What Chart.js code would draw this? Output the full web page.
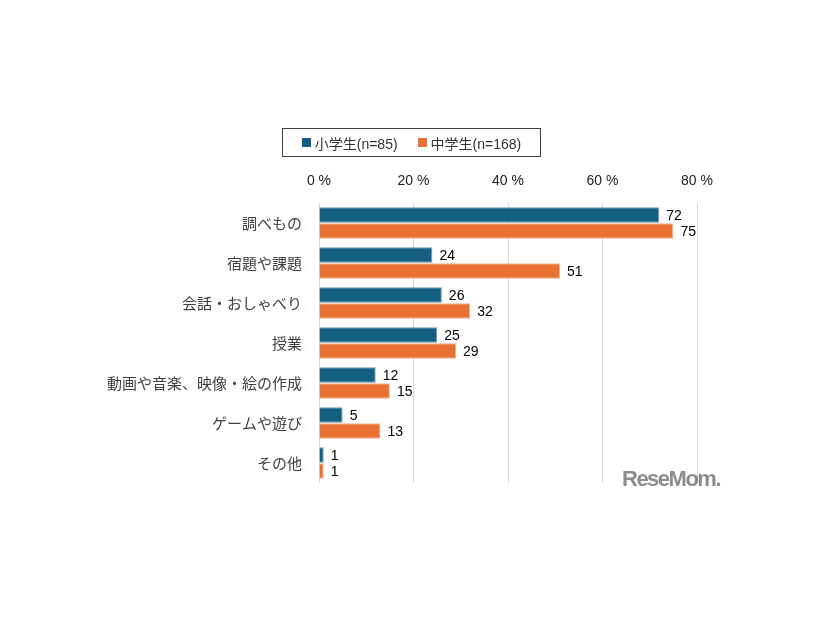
<!DOCTYPE html>
<html lang="ja">
<head>
<meta charset="UTF-8">
<title>利用目的</title>
<script src="https://cdn.jsdelivr.net/npm/chart.js"></script>
<style>
  body { margin: 0; background: #ffffff; }
  #wrap { position: relative; width: 826px; height: 620px; }
  #legend {
    position: absolute; left: 282px; top: 128px; width: 257px; height: 27px;
    border: 1px solid #404040; display: flex; justify-content: center; align-items: center;
    font-family: "Liberation Sans", "Noto Sans CJK JP", sans-serif; font-size: 14px; color: #333;
  }
  #legend span.item { display: flex; align-items: center; margin: 0 10px; }
  #legend span.box { width: 9px; height: 9px; margin-right: 4px; }
  #logo {
    position: absolute; left: 622px; top: 466px; font-family: "Liberation Sans", sans-serif;
    font-weight: bold; font-size: 22px; color: #8c8c8c; letter-spacing: -1.5px;
  }
</style>
</head>
<body>
<div id="wrap">
  <canvas id="chart" width="826" height="620"></canvas>
  <div id="legend"></div>
  <div id="logo">ReseMom.</div>
</div>
<script>
  // データ
  const categories = ['調べもの', '宿題や課題', '会話・おしゃべり', '授業', '動画や音楽、映像・絵の作成', 'ゲームや遊び', 'その他'];
  const elementary = [72, 24, 26, 25, 12, 5, 1];
  const juniorHigh = [75, 51, 32, 29, 15, 13, 1];
  const seriesNames = ['小学生(n=85)', '中学生(n=168)'];
  const tickValues = [0, 20, 40, 60, 80];

  const colors = ['#156082', '#e97132'];

  // 棒の先に数値を描く
  const valueLabels = {
    id: 'valueLabels',
    afterDatasetsDraw(chart) {
      const ctx = chart.ctx;
      ctx.save();
      ctx.font = '14px "Liberation Sans", sans-serif';
      ctx.fillStyle = '#000';
      ctx.textBaseline = 'middle';
      ctx.textAlign = 'left';
      chart.data.datasets.forEach((ds, i) => {
        chart.getDatasetMeta(i).data.forEach((bar, j) => {
          ctx.fillText(ds.data[j], bar.x + 7, bar.y + 1);
        });
      });
      ctx.restore();
    }
  };

  new Chart(document.getElementById('chart'), {
    type: 'bar',
    data: {
      labels: categories,
      datasets: [
        { label: seriesNames[0], data: elementary, backgroundColor: colors[0], borderColor: '#6f9bb3', borderWidth: 1 },
        { label: seriesNames[1], data: juniorHigh, backgroundColor: colors[1], borderColor: '#f4ae8a', borderWidth: 1 }
      ]
    },
    options: {
      indexAxis: 'y',
      responsive: false,
      animation: false,
      layout: { padding: { left: 0, right: 129, top: 160, bottom: 137 } },
      plugins: { legend: { display: false }, tooltip: { enabled: false } },
      datasets: { bar: { categoryPercentage: 0.8, barPercentage: 0.97 } },
      scales: {
        x: {
          position: 'top',
          min: 0, max: 80,
          afterBuildTicks(scale) { scale.ticks = tickValues.map(v => ({ value: v })); },
          afterFit(scale) { scale.height = 43; },
          ticks: {
            padding: 13,
            color: '#222',
            font: { family: '"Liberation Sans", "Noto Sans CJK JP", sans-serif', size: 14 },
            callback: v => v + ' %'
          },
          grid: { color: '#d9d9d9', drawTicks: false },
          border: { display: false }
        },
        y: {
          afterFit(scale) { scale.width = 319; },
          ticks: {
            padding: 9,
            color: '#404040',
            font: { family: '"Noto Sans CJK JP", sans-serif', size: 15 }
          },
          grid: { display: false },
          border: { display: false }
        }
      }
    },
    plugins: [valueLabels]
  });

  // 凡例
  const legend = document.getElementById('legend');
  seriesNames.forEach((name, i) => {
    const item = document.createElement('span');
    item.className = 'item';
    item.innerHTML = '<span class="box" style="background:' + colors[i] + '"></span>' + name;
    legend.appendChild(item);
  });
</script>
</body>
</html>
